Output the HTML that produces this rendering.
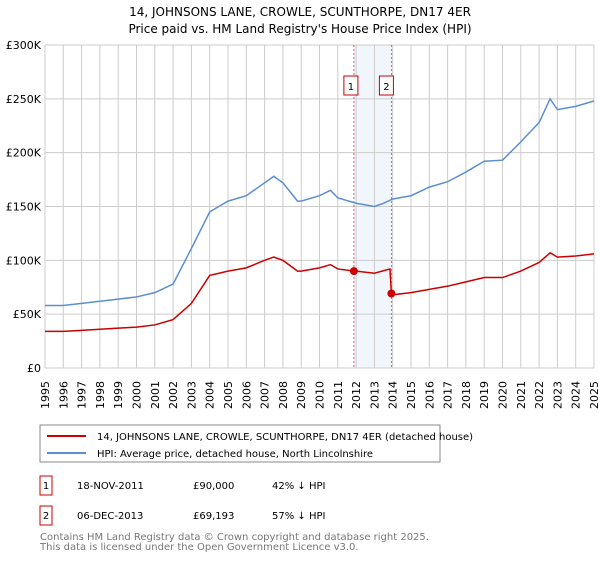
<!DOCTYPE html>
<html><head><meta charset="utf-8"><style>
body{margin:0;background:#fff;font-family:"DejaVu Sans","Liberation Sans",sans-serif;}
svg text{font-family:"DejaVu Sans","Liberation Sans",sans-serif;}
</style></head><body>
<svg id="c" width="600" height="560" xmlns="http://www.w3.org/2000/svg">
<text x="300" y="16" text-anchor="middle" font-size="12">14, JOHNSONS LANE, CROWLE, SCUNTHORPE, DN17 4ER</text>
<text x="300" y="33" text-anchor="middle" font-size="12">Price paid vs. HM Land Registry's House Price Index (HPI)</text>
<g id="grid"></g><g id="marks"></g>
<rect x="40" y="425" width="400" height="37" fill="#fff" stroke="#888"/>
<line x1="47" y1="436" x2="86" y2="436" stroke="#cc0000" stroke-width="2"/>
<text x="97" y="440" font-size="10">14, JOHNSONS LANE, CROWLE, SCUNTHORPE, DN17 4ER (detached house)</text>
<line x1="47" y1="453" x2="86" y2="453" stroke="#5b8fd0" stroke-width="2"/>
<text x="97" y="457" font-size="10">HPI: Average price, detached house, North Lincolnshire</text>
<rect x="40" y="476" width="12" height="19" fill="none" stroke="#cc0000"/>
<text x="46" y="489" font-size="10" text-anchor="middle">1</text>
<text x="77" y="489" font-size="10">18-NOV-2011</text>
<text x="193" y="489" font-size="10">£90,000</text>
<text x="272" y="489" font-size="10">42% ↓ HPI</text>
<rect x="40" y="506" width="12" height="19" fill="none" stroke="#cc0000"/>
<text x="46" y="519" font-size="10" text-anchor="middle">2</text>
<text x="77" y="519" font-size="10">06-DEC-2013</text>
<text x="193" y="519" font-size="10">£69,193</text>
<text x="272" y="519" font-size="10">57% ↓ HPI</text>
<text x="40" y="540" font-size="10" fill="#777">Contains HM Land Registry data © Crown copyright and database right 2025.</text>
<text x="40" y="550" font-size="10" fill="#777">This data is licensed under the Open Government Licence v3.0.</text>
</svg>
<script>
const hpiYears=[1995,1996,1997,1998,1999,2000,2001,2002,2003,2004,2005,2006,2007,2007.5,2008,2008.8,2009,2010,2010.6,2011,2012,2013,2013.5,2014,2015,2016,2017,2018,2019,2020,2021,2022,2022.6,2023,2024,2025];
const hpiValues=[58,58,60,62,64,66,70,78,111,145,155,160,172,178,172,155,155,160,165,158,153,150,153,157,160,168,173,182,192,193,210,228,250,240,243,248];
const redYears=[1995,1996,1997,1998,1999,2000,2001,2002,2003,2004,2005,2006,2007,2007.5,2008,2008.8,2009,2010,2010.6,2011,2011.88,2012,2013,2013.85,2013.93,2014,2015,2016,2017,2018,2019,2020,2021,2022,2022.6,2023,2024,2025];
const redValues=[34,34,35,36,37,38,40,45,60,86,90,93,100,103,100,90,90,93,96,92,90,90,88,92,69.2,68,70,73,76,80,84,84,90,98,107,103,104,106];
const saleYears=[2011.88,2013.93];
const saleValues=[90,69.193];
const yTicks=[0,50,100,150,200,250,300];
const yTickLabels=["£0","£50K","£100K","£150K","£200K","£250K","£300K"];
const xTicks=[1995,1996,1997,1998,1999,2000,2001,2002,2003,2004,2005,2006,2007,2008,2009,2010,2011,2012,2013,2014,2015,2016,2017,2018,2019,2020,2021,2022,2023,2024,2025];
const X=y=>45+(y-1995)*(594-45)/30, Y=v=>368-v*(368-45)/300;
const NS="http://www.w3.org/2000/svg";
function mk(p,t,a){const e=document.createElementNS(NS,t);for(const k in a)e.setAttribute(k,a[k]);p.appendChild(e);return e;}
const g=document.getElementById('grid'),m=document.getElementById('marks');
mk(g,'rect',{x:X(saleYears[0]),y:45,width:X(saleYears[1])-X(saleYears[0]),height:323,fill:'#e8f0fb',opacity:0.6});
xTicks.forEach((t,i)=>{const l=mk(g,'line',{x1:X(t),x2:X(t),y1:45,y2:368,stroke:'#ccc'});


const tx=mk(g,'text',{x:0,y:0,'font-size':11,'text-anchor':'end',transform:'translate('+(X(t)+4)+',381) rotate(-90)'});tx.textContent=t;

});
yTicks.forEach((t,i)=>{const l=mk(g,'line',{x1:45,x2:594,y1:Y(t),y2:Y(t),stroke:'#ccc'});


const tx=mk(g,'text',{x:41,y:Y(t)+4,'font-size':11,'text-anchor':'end'});tx.textContent=yTickLabels[i];

});
saleYears.forEach((s,i)=>{const l=mk(m,'line',{x1:X(s),x2:X(s),y1:45,y2:368,stroke:'#e55','stroke-dasharray':'2,2'});


const r=mk(m,'rect',{x:X(s)-(i?10:8)-2,y:76,width:14,height:19,fill:'#fff',stroke:'#cc0000'});


const t=mk(m,'text',{x:X(s)-(i?10:8)+5,y:90,'font-size':10,'text-anchor':'middle'});t.textContent=i+1;});
const hp=mk(m,'polyline',{points:hpiYears.map((y,i)=>X(y)+','+Y(hpiValues[i])).join(' '),fill:'none',stroke:'#5b8fd0','stroke-width':1.5});


const rp=mk(m,'polyline',{points:redYears.map((y,i)=>X(y)+','+Y(redValues[i])).join(' '),fill:'none',stroke:'#cc0000','stroke-width':1.5});


saleYears.forEach((s,i)=>{const c=mk(m,'circle',{cx:X(s),cy:Y(saleValues[i]),r:4,fill:'#cc0000'});

});
</script>
</body></html>
